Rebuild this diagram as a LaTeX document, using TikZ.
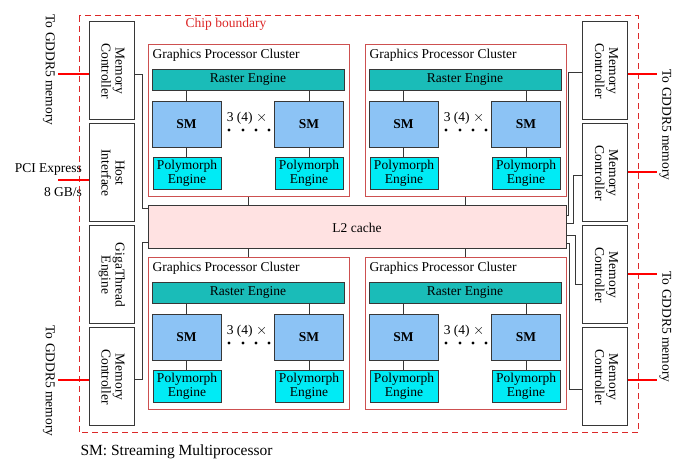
\documentclass[tikz,border=0pt]{standalone}
\usepackage{fontspec}
\setmainfont{Liberation Serif}
\usetikzlibrary{positioning, calc}
\definecolor{rastercol}{RGB}{26,188,184}
\definecolor{smblue}{RGB}{140,195,245}
\definecolor{polycyan}{RGB}{0,235,245}
\definecolor{cachepink}{RGB}{255,226,226}
\definecolor{gpcred}{RGB}{205,80,80}
\definecolor{chipred}{RGB}{220,40,40}
\definecolor{linegray}{RGB}{55,55,55}
\newcommand{\vlabel}[1]{\rotatebox{-90}{\begin{tabular}{@{}c@{}}#1\end{tabular}}}
\tikzstyle{unit} = [draw=linegray, line width=1pt, minimum width=45pt, minimum height=98pt, inner sep=0pt]
\tikzstyle{gpc} = [draw=gpcred, line width=1pt, minimum width=201pt, minimum height=152pt, inner sep=0pt]
\tikzstyle{raster} = [draw=linegray, line width=0.8pt, fill=rastercol, minimum width=192pt, minimum height=21pt, inner sep=0pt]
\tikzstyle{sm} = [draw=linegray, line width=0.8pt, fill=smblue, minimum width=69pt, minimum height=46pt, inner sep=0pt]
\tikzstyle{poly} = [draw=linegray, line width=0.8pt, fill=polycyan, minimum width=68pt, minimum height=32pt, inner sep=0pt, align=center]
\tikzstyle{cache} = [draw=linegray, line width=1pt, fill=cachepink, minimum width=418pt, minimum height=43pt, inner sep=0pt]
\tikzstyle{link} = [draw=linegray, line width=1pt]
\tikzstyle{redline} = [draw=red, line width=1.5pt]
\tikzstyle{chip} = [draw=chipred, line width=1pt, dash pattern=on 6pt off 4pt]

\begin{document}
\begin{tikzpicture}[x=1pt, y=-1pt, font=\fontsize{13.5}{14}\selectfont]
    \useasboundingbox (0,0) rectangle (673,462);
    % Chip boundary
    \draw [chip] (79,16) rectangle (638,433);
    \node [text=chipred] (chiplabel) at (226,24) {Chip boundary};

    % Side blocks
    \node [unit] (mcl1) at (111.5,71) {\vlabel{Memory\\Controller}};
    \node [unit, below=3pt of mcl1] (host) {\vlabel{Host\\Interface}};
    \node [unit, below=3pt of host] (giga) {\vlabel{GigaThread\\Engine}};
    \node [unit, below=3pt of giga] (mcl2) {\vlabel{Memory\\Controller}};
    \node [unit] (mcr1) at (605,71) {\vlabel{Memory\\Controller}};
    \node [unit, below=3pt of mcr1] (mcr2) {\vlabel{Memory\\Controller}};
    \node [unit, below=3pt of mcr2] (mcr3) {\vlabel{Memory\\Controller}};
    \node [unit, below=3pt of mcr3] (mcr4) {\vlabel{Memory\\Controller}};

    % L2 cache and the clusters
    \node [cache] (l2) at (357,227.5) {L2 cache};
    \foreach \i/\X/\Y/\a/\b in {1/148/45/south/north, 2/365/45/south/north, 3/148/258/north/south, 4/365/258/north/south} {
        \node [gpc] (gpc\i) at (\X+100.5,\Y+76) {};
        \node [anchor=west] (title\i) at (\X+1,\Y+10) {Graphics Processor Cluster};
        \node [raster] (re\i) at (\X+100,\Y+34.5) {Raster Engine};
        \node [sm] (sma\i) at (\X+38.5,\Y+79) {\textbf{SM}};
        \node [sm] (smb\i) at (\X+161,\Y+79) {\textbf{SM}};
        \node [poly] (pea\i) at (\X+39,\Y+128) {Polymorph\\Engine};
        \node [poly] (peb\i) at (\X+161,\Y+128) {Polymorph\\Engine};
        \node (count\i) at (\X+99,\Y+73) {3 (4) $\times$};
        \foreach \d in {81,95,108,121}
            \fill (\X+\d,\Y+85) circle (1.6);
        \draw [link] (sma\i.north) -- (sma\i.north |- re\i.south);
        \draw [link] (smb\i.north) -- (smb\i.north |- re\i.south);
        \draw [link] (sma\i.south) -- (pea\i.north -| sma\i.south);
        \draw [link] (smb\i.south) -- (peb\i.north -| smb\i.south);
        \draw [link] (gpc\i.\a) -- (gpc\i.\a |- l2.\b);
    }

    % Connect the controllers
    \draw [link] ($(mcl1.east)+(0,4)$) -- ++(8,0) |- ($(l2.north west)+(0,3)$);
    \draw [link] ($(mcl2.east)+(0,3)$) -- ++(8,0) |- ($(l2.south west)+(0,-7)$);
    \draw [link] ($(mcr1.west)+(0,2)$) -- ++(-14,0) |- ($(l2.north east)+(0,10)$);
    \draw [link] ($(mcr2.west)+(0,3)$) -- ++(-9,0) |- ($(l2.north east)+(0,18)$);
    \draw [link] ($(mcr3.west)+(0,10)$) -- ++(-7,0) |- ($(l2.south east)+(0,-14)$);
    \draw [link] ($(mcr4.west)+(0,13)$) -- ++(-13,0) |- ($(l2.south east)+(0,-6)$);

    % Off-chip links
    \coordinate (gl1) at (58,74);
    \coordinate (pci) at (58,180);
    \coordinate (gl2) at (58,380);
    \coordinate (gr1) at (657,74);
    \coordinate (gr2) at (657,172);
    \coordinate (gr3) at (657,274);
    \coordinate (gr4) at (657,380);
    \draw [redline] (gl1) -- (gl1 -| mcl1.west);
    \draw [redline] (pci) -- (pci -| host.west);
    \draw [redline] (gl2) -- (gl2 -| mcl2.west);
    \draw [redline] (gr1 -| mcr1.east) -- (gr1);
    \draw [redline] (gr2 -| mcr2.east) -- (gr2);
    \draw [redline] (gr3 -| mcr3.east) -- (gr3);
    \draw [redline] (gr4 -| mcr4.east) -- (gr4);
    \node [rotate=-90] (memtl) at (49,70) {To GDDR5 memory};
    \node [rotate=-90] (membl) at (49,381) {To GDDR5 memory};
    \node [rotate=-90, inner sep=0pt] (memtr) at (665.5,125) {To GDDR5 memory};
    \node [rotate=-90, inner sep=0pt] (membr) at (665.5,327) {To GDDR5 memory};
    \node [anchor=east] (pcilabel) at (85.5,169) {PCI Express};
    \node [anchor=east] (pcirate) at (85.5,192) {8 GB/s};

    \node [anchor=west, font=\fontsize{15.5}{17}\selectfont] (smnote) at (77,452) {SM: Streaming Multiprocessor};
\end{tikzpicture}
\end{document}
